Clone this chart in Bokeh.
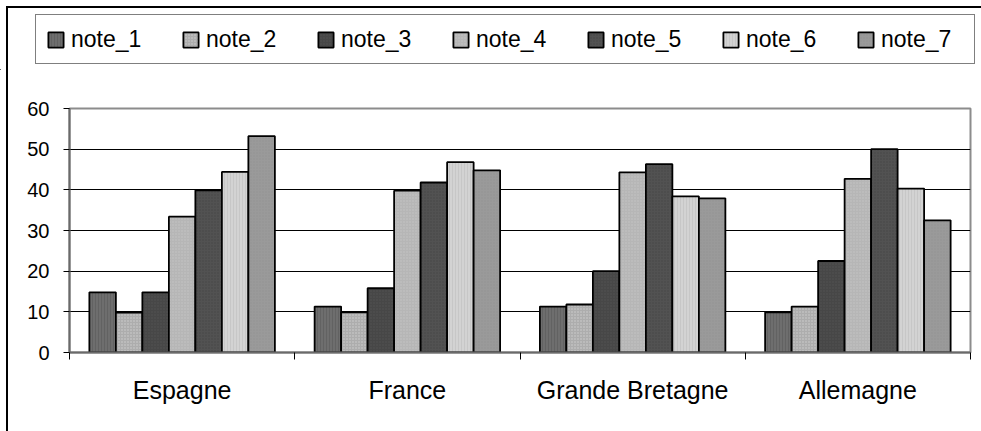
from bokeh.plotting import figure
from bokeh.layouts import column, row
from bokeh.models import ColumnDataSource, Range1d, FixedTicker, Legend, LegendItem
from bokeh.transform import dodge
from bokeh.embed import file_html
from bokeh.resources import INLINE

# Survey scores per country
countries = ["Espagne", "France", "Grande Bretagne", "Allemagne"]
series_names = ["note_1", "note_2", "note_3", "note_4", "note_5", "note_6", "note_7"]
note_1 = [14.8, 11.3, 11.3, 9.9]
note_2 = [9.8, 9.9, 11.8, 11.3]
note_3 = [14.8, 15.8, 20.0, 22.5]
note_4 = [33.4, 39.8, 44.3, 42.7]
note_5 = [39.9, 41.8, 46.3, 50.0]
note_6 = [44.4, 46.8, 38.4, 40.3]
note_7 = [53.2, 44.8, 37.9, 32.5]
y_ticks = [0, 10, 20, 30, 40, 50, 60]

series = [note_1, note_2, note_3, note_4, note_5, note_6, note_7]

# grey fills with a light texture, one per series
fills = ["#6e6e6e", "#adadad", "#474747", "#b6b6b6", "#525252", "#d3d3d3", "#9a9a9a"]
hatches = ["|", ".", ".", ".", ".", "|", "."]
hatch_colors = ["#5a5a5a", "#e6e6e6", "#5c5c5c", "#d0d0d0", "#3c3c3c", "#c0c0c0", "#8c8c8c"]

FONT = "Liberation Sans"
W, H_LEG, H_CHART = 981, 70, 361


def bar_style(k):
    return dict(fill_color=fills[k], line_color="black", line_width=1.8,
                hatch_pattern=hatches[k], hatch_color=hatch_colors[k],
                hatch_scale=3, hatch_weight=1, hatch_alpha=0.6)


centers = [i + 0.5 for i in range(len(countries))]
data = dict(pos=centers)
for name, vals in zip(series_names, series):
    data[name] = vals
source = ColumnDataSource(data)

# ---- main chart ----
p = figure(width=W, height=H_CHART, x_range=Range1d(0, len(countries)),
           y_range=Range1d(0, 60), output_backend="svg", toolbar_location=None,
           min_border_left=69, min_border_right=11, min_border_top=38,
           min_border_bottom=79)
p.background_fill_color = "white"
p.border_fill_alpha = 0
p.outline_line_color = "#8c8c8c"
p.outline_line_width = 2

# bars: 7 per group, gap of 1.5 bar widths between groups
bar_w = 1.0 / 8.5
for k, name in enumerate(series_names):
    off = (k - 3) * bar_w
    p.vbar(x=dodge("pos", off, range=p.x_range), top=name, width=bar_w,
           source=source, **bar_style(k))

# y axis
p.yaxis.ticker = FixedTicker(ticks=y_ticks)
p.yaxis.major_tick_out = 6
p.yaxis.major_tick_in = 0
p.yaxis.minor_tick_out = 0
p.yaxis.minor_tick_in = 0
p.yaxis.major_tick_line_color = "black"
p.yaxis.axis_line_color = "#6a6a6a"
p.yaxis.axis_line_width = 2
p.yaxis.major_label_standoff = 14
p.yaxis.major_label_text_font = FONT
p.yaxis.major_label_text_font_size = "20px"
p.yaxis.major_label_text_color = "black"

# x axis: labels at group centers, ticks at group boundaries
p.xaxis.ticker = FixedTicker(ticks=centers,
                             minor_ticks=list(range(len(countries) + 1)))
p.xaxis.major_label_overrides = {c: n for c, n in zip(centers, countries)}
p.xaxis.major_tick_out = 0
p.xaxis.major_tick_in = 0
p.xaxis.minor_tick_out = 7
p.xaxis.minor_tick_in = 0
p.xaxis.minor_tick_line_color = "black"
p.xaxis.axis_line_color = "#6a6a6a"
p.xaxis.axis_line_width = 2
p.xaxis.major_label_standoff = 16
p.xaxis.major_label_text_font = FONT
p.xaxis.major_label_text_font_size = "25px"
p.xaxis.major_label_text_color = "black"

# horizontal gridlines
p.xgrid.visible = False
p.ygrid.ticker = FixedTicker(ticks=[10, 20, 30, 40, 50])
p.ygrid.grid_line_color = "black"
p.ygrid.grid_line_width = 1.2

# ---- legend strip ----
leg = figure(width=W, height=H_LEG, x_range=Range1d(0, 1), y_range=Range1d(0, 1),
             output_backend="svg", toolbar_location=None,
             x_axis_location=None, y_axis_location=None,
             min_border_left=0, min_border_right=0, min_border_top=0,
             min_border_bottom=0)
leg.grid.visible = False
leg.outline_line_color = None
leg.background_fill_alpha = 0
leg.border_fill_alpha = 0
items = []
for k, name in enumerate(series_names):
    # legend swatch proxies, kept outside the visible x range
    r = leg.vbar(x=[-1], top=[0], width=0.1, **bar_style(k))
    items.append(LegendItem(label=name, renderers=[r]))
legend = Legend(items=items, orientation="horizontal", location=(35, 6),
                label_text_font=FONT, label_text_font_size="23px",
                label_text_color="black", glyph_width=19, glyph_height=19,
                label_standoff=6, label_width=83, spacing=27, padding=10,
                margin=0, label_height=28, border_line_color="black",
                border_line_width=1.2, background_fill_color="white")
leg.add_layout(legend)

# chart frame: top and left edges drawn 6px in from the page corner
page = column(row(leg), p, spacing=0,
              styles={"box-shadow": "inset 6px 6px 0 0 white, inset 8px 8px 0 0 black"})

open("out.html", "w").write(file_html(page, INLINE))
